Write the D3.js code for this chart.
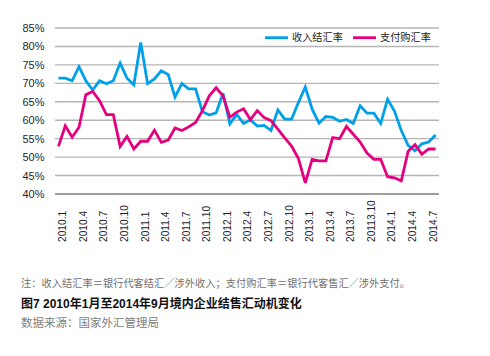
<!DOCTYPE html>
<html><head><meta charset="utf-8">
<script src="https://cdn.jsdelivr.net/npm/d3@7"></script>
<style>
body{margin:0;background:#fff;}
svg{display:block;}
</style></head>
<body>
<div id="chart"></div>
<script>
const months = [];
for (let y = 2010; y <= 2014; y++) for (let m = 1; m <= 12; m++) { if (y === 2014 && m > 8) break; months.push(y + "." + m); }
const tickLabels = ["2010.1","2010.4","2010.7","2010.10","2011.1","2011.4","2011.7","2011.10","2012.1","2012.4","2012.7","2012.10","2013.1","2013.4","2013.7","20113.10","2014.1","2014.4","2014.7"];
const seriesNames = ["收入结汇率","支付购汇率"];
const incomeRate = [71.4,71.4,70.7,74.5,70.7,68.2,70.7,69.9,70.7,75.5,71.4,69.6,81.1,69.9,71.2,73.4,72.4,66.3,69.9,68.5,68.5,62.3,61.4,62.0,67.3,59.0,61.6,59.1,60.1,58.4,58.6,57.2,62.8,60.3,60.3,64.8,69.0,63.0,59.2,61.0,60.8,59.7,60.2,59.1,63.9,61.9,61.9,59.1,65.7,62.5,57.2,53.2,51.7,53.6,54.1,56.0];
const paymentRate = [52.9,58.5,55.4,58.1,66.9,67.8,65.3,61.5,61.5,52.9,55.6,52.2,54.3,54.3,57.3,54.0,54.6,57.9,57.2,58.2,59.4,62.6,66.6,68.8,66.6,60.8,62.2,63.1,60.2,62.6,60.7,59.9,57.6,55.2,53.0,49.6,43.0,49.4,49.0,49.0,55.3,55.0,58.3,56.2,54.1,51.1,49.4,49.4,44.7,44.4,43.6,51.6,53.4,50.8,52.2,52.2];
const yTicks = [40,45,50,55,60,65,70,75,80,85];
const colors = ["#00a0e9","#e4007f"];
const noteText = "注：收入结汇率＝银行代客结汇／涉外收入；支付购汇率＝银行代客售汇／涉外支付。";
const titleText = "图7  2010年1月至2014年9月境内企业结售汇动机变化";
const sourceText = "数据来源：国家外汇管理局";

const W = 490, H = 356;
const L = 55, R = 439, T = 28, B = 194;
const svg = d3.select("#chart").append("svg").attr("width", W).attr("height", H);
const x = d3.scaleBand().domain(months).range([L, R]).padding(0);
const y = d3.scaleLinear().domain([40, 85]).range([B, T]);
const cx = d => x(d) + x.bandwidth() / 2;
const latin = "'Liberation Sans', Arial, 'Noto Sans CJK SC', sans-serif";
const cjk = "'Liberation Sans', 'Noto Sans CJK SC', sans-serif";

// gridlines
svg.append("g").selectAll("line").data(yTicks).join("line")
  .attr("x1", L).attr("x2", R)
  .attr("y1", d => y(d)).attr("y2", d => y(d))
  .attr("stroke", d => d === 40 ? "#7f7f7f" : "#b5b5b5")
  .attr("stroke-width", 1.4);

// y axis labels
svg.append("g").selectAll("text").data(yTicks).join("text")
  .attr("x", 44.5).attr("y", d => y(d)).attr("dy", "0.36em")
  .attr("text-anchor", "end").attr("font-family", latin).attr("font-size", 11)
  .attr("fill", "#1f1f2e").text(d => d + "%");

// x labels
svg.append("g").selectAll("text").data(tickLabels).join("text")
  .attr("transform", (d, i) => `translate(${cx(months[i * 3]) + 7.8},242) rotate(-90)`)
  .attr("text-anchor", "start").attr("font-family", latin).attr("font-size", 10.2)
  .attr("fill", "#1f1f2e").text(d => d);

// lines
const series = [incomeRate, paymentRate];
const line = d3.line().x((d, i) => cx(months[i])).y(d => y(d));
series.forEach((s, k) => {
  svg.append("path").datum(s).attr("d", line)
    .attr("fill", "none").attr("stroke", colors[k]).attr("stroke-width", 2.8)
    .attr("stroke-linejoin", "miter").attr("stroke-miterlimit", 3);
});

// legend
const legX = [265, 353];
seriesNames.forEach((n, k) => {
  svg.append("line").attr("x1", legX[k]).attr("x2", legX[k] + 23)
    .attr("y1", 37.7).attr("y2", 37.7).attr("stroke", colors[k]).attr("stroke-width", 2.8);
  svg.append("text").attr("x", legX[k] + 27).attr("y", 37.7).attr("dy", "0.36em")
    .attr("font-family", cjk).attr("font-size", 10.2).attr("fill", "#222").text(n);
});

// footnotes
svg.append("text").attr("x", 21).attr("y", 283).attr("dy", "0.36em")
  .attr("font-family", cjk).attr("font-size", 10.2).attr("fill", "#707070")
  .attr("textLength", 389).attr("lengthAdjust", "spacing").text(noteText);
svg.append("text").attr("x", 21).attr("y", 303.3).attr("dy", "0.36em")
  .attr("font-family", cjk).attr("font-size", 12).attr("font-weight", "bold").attr("fill", "#111")
  .text(titleText);
svg.append("text").attr("x", 21).attr("y", 323.3).attr("dy", "0.36em")
  .attr("font-family", cjk).attr("font-size", 11.5).attr("fill", "#808080")
  .text(sourceText);
</script>
</body></html>
